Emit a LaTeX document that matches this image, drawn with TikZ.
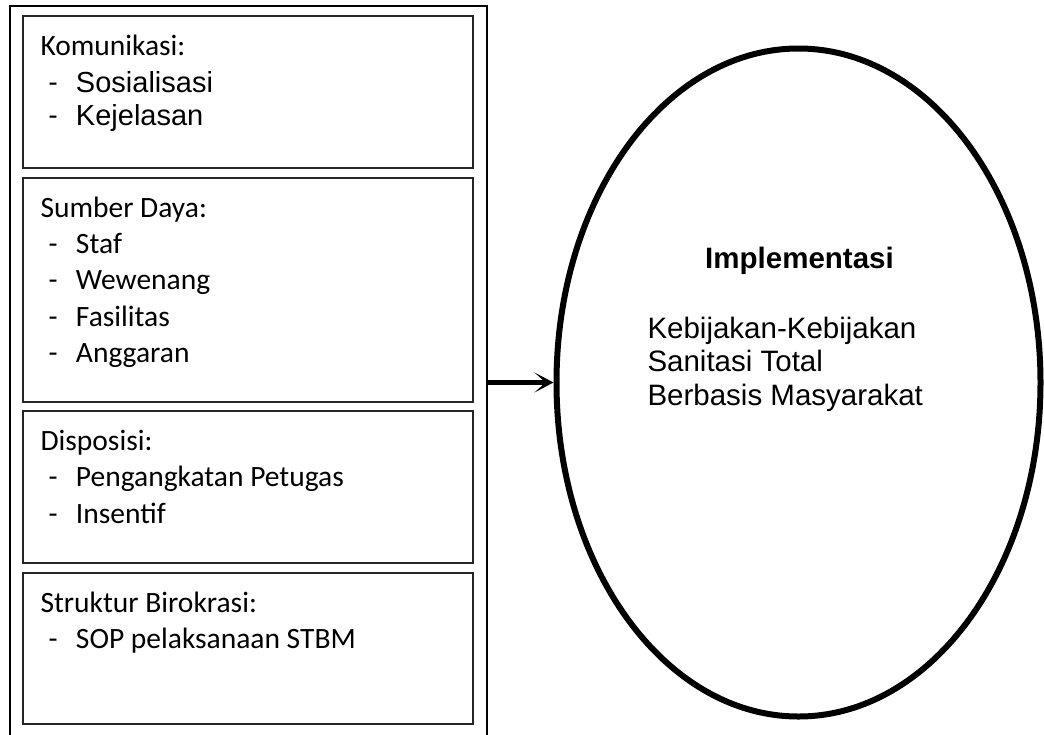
\documentclass[tikz,border=0pt]{standalone}
\usepackage{fontspec}
\newfontfamily\calibri{Carlito}
\newfontfamily\arial{Liberation Sans}
\usetikzlibrary{arrows.meta,shapes.geometric}
\newcommand{\itemdash}{\makebox[27.5pt][l]{\calibri -}}

\begin{document}
\begin{tikzpicture}[x=1pt,y=-1pt,
    line/.style={anchor=base west,inner sep=0,outer sep=0,font=\calibri\fontsize{29.5}{36}\selectfont},
    linearial/.style={line,font=\arial\fontsize{29}{34}\selectfont},
    panel/.style={draw=black!85,line width=1.3pt,minimum width=450pt,inner sep=0}]
  \useasboundingbox (0,0) rectangle (1044,734);
  % outer frame (runs past the bottom edge)
  \node[draw,line width=2pt,minimum width=477pt,minimum height=744pt,inner sep=0] (frame) at (248.5,378) {};
  % the four panels
  \node[panel,minimum height=152pt] (kom) at (248,92) {};
  \node[panel,minimum height=224pt] (sd) at (248,290) {};
  \node[panel,minimum height=152pt] (dis) at (248,487) {};
  \node[panel,minimum height=151pt] (sb) at (248,648.5) {};
  % Komunikasi
  \node[line] (komh) at (40.5,55) {Komunikasi:};
  \node[line] (kom1) at (48.5,92) {\itemdash{\arial\fontsize{29}{34}\selectfont Sosialisasi}};
  \node[line] (kom2) at (48.5,125) {\itemdash{\arial\fontsize{29}{34}\selectfont Kejelasan}};
  % Sumber Daya
  \node[line] (sdh) at (40.5,217) {Sumber Daya:};
  \node[line] (sd1) at (48.5,253) {\itemdash Staf};
  \node[line] (sd2) at (48.5,289.5) {\itemdash Wewenang};
  \node[line] (sd3) at (48.5,326) {\itemdash Fasilitas};
  \node[line] (sd4) at (48.5,362.5) {\itemdash Anggaran};
  % Disposisi
  \node[line] (dish) at (40.5,450) {Disposisi:};
  \node[line] (dis1) at (48.5,486) {\itemdash Pengangkatan Petugas};
  \node[line] (dis2) at (48.5,523) {\itemdash Insentif};
  % Struktur Birokrasi
  \node[line] (sbh) at (40.5,612) {Struktur Birokrasi:};
  \node[line] (sb1) at (48.5,648) {\itemdash SOP pelaksanaan STBM};
  % Implementasi
  \node[draw,ellipse,line width=6pt,minimum width=484pt,minimum height=668pt,inner sep=0] (impl) at (798.5,382.5) {};
  \node[anchor=base,inner sep=0,font=\arial\bfseries\fontsize{29.5}{34}\selectfont] (implh) at (799.5,268) {Implementasi};
  % base of a multi-line node is its last line
  \node[linearial,align=left,font=\arial\fontsize{29.5}{33.5}\selectfont] (impltxt) at (647.5,405) {Kebijakan-Kebijakan\\Sanitasi Total\\Berbasis Masyarakat};
  \draw[line width=5pt,-{Stealth[length=19pt,width=20pt,inset=11pt]}] (frame.east |- impl.west) -- (impl.west);
\end{tikzpicture}
\end{document}
